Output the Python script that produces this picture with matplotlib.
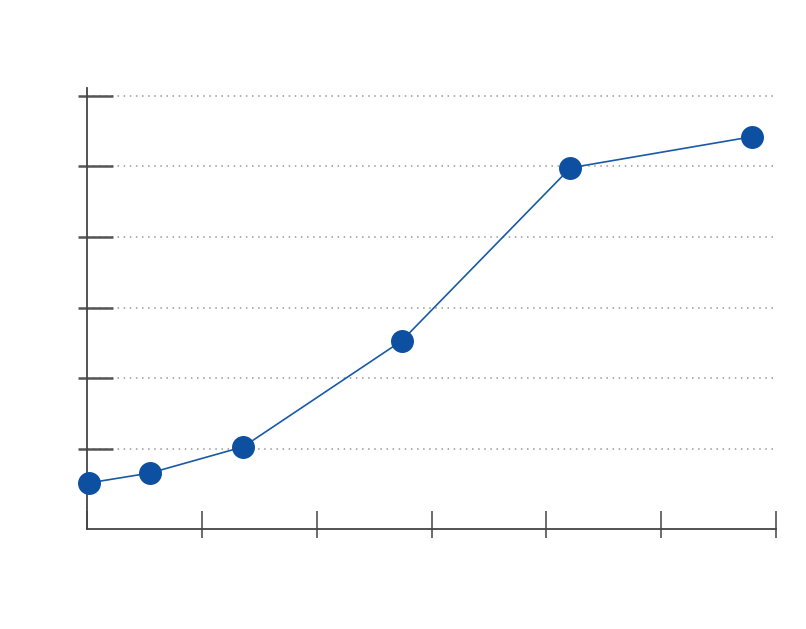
import matplotlib
matplotlib.use("Agg")
import matplotlib.pyplot as plt

x_values = [0.02, 0.55, 1.36, 2.74, 4.21, 5.79]
y_values = [5.2, 6.6, 10.3, 25.3, 49.8, 54.2]
x_ticks = [0, 1, 2, 3, 4, 5, 6]
y_ticks = [10, 20, 30, 40, 50, 60]

W, H = 806, 629
fig = plt.figure(figsize=(W / 100, H / 100), dpi=100)
ax = fig.add_axes([87 / W, (H - 529) / H, (776 - 87) / W, (529 - 88) / H])

ax.plot(x_values, y_values, color="#1a5aa6", linewidth=1.2, marker="o",
        markersize=15.5, markerfacecolor="#0d4fa0", markeredgecolor="#0d4fa0",
        clip_on=False, zorder=3)

ax.set_xlim(0, 6)
ax.set_ylim(-1.33, 61.1)
ax.set_xticks(x_ticks)
ax.set_yticks(y_ticks)
ax.set_xticks(x_ticks[1:], minor=True)
ax.set_yticks(y_ticks, minor=True)
ax.xaxis.remove_overlapping_locs = False
ax.yaxis.remove_overlapping_locs = False
ax.set_xticklabels([])
ax.set_yticklabels([])
ax.set_xticklabels([], minor=True)
ax.set_yticklabels([], minor=True)

tc = "#444444"
ax.tick_params(axis="x", which="major", direction="in", length=13, width=1.1, color=tc)
ax.tick_params(axis="x", which="minor", direction="out", length=6.5, width=1.1, color=tc)
ax.tick_params(axis="y", which="major", direction="in", length=18.7, width=1.8, color="#555555")
ax.tick_params(axis="y", which="minor", direction="out", length=6.5, width=1.8, color="#555555")

for s in ["top", "right"]:
    ax.spines[s].set_visible(False)
for s in ["left", "bottom"]:
    ax.spines[s].set_color(tc)
    ax.spines[s].set_linewidth(1.3)

ax.grid(axis="y", which="major", linestyle=(0, (1, 3)), color="#999999", linewidth=1.1)
ax.set_axisbelow(True)

fig.savefig("out.png", dpi=100)
